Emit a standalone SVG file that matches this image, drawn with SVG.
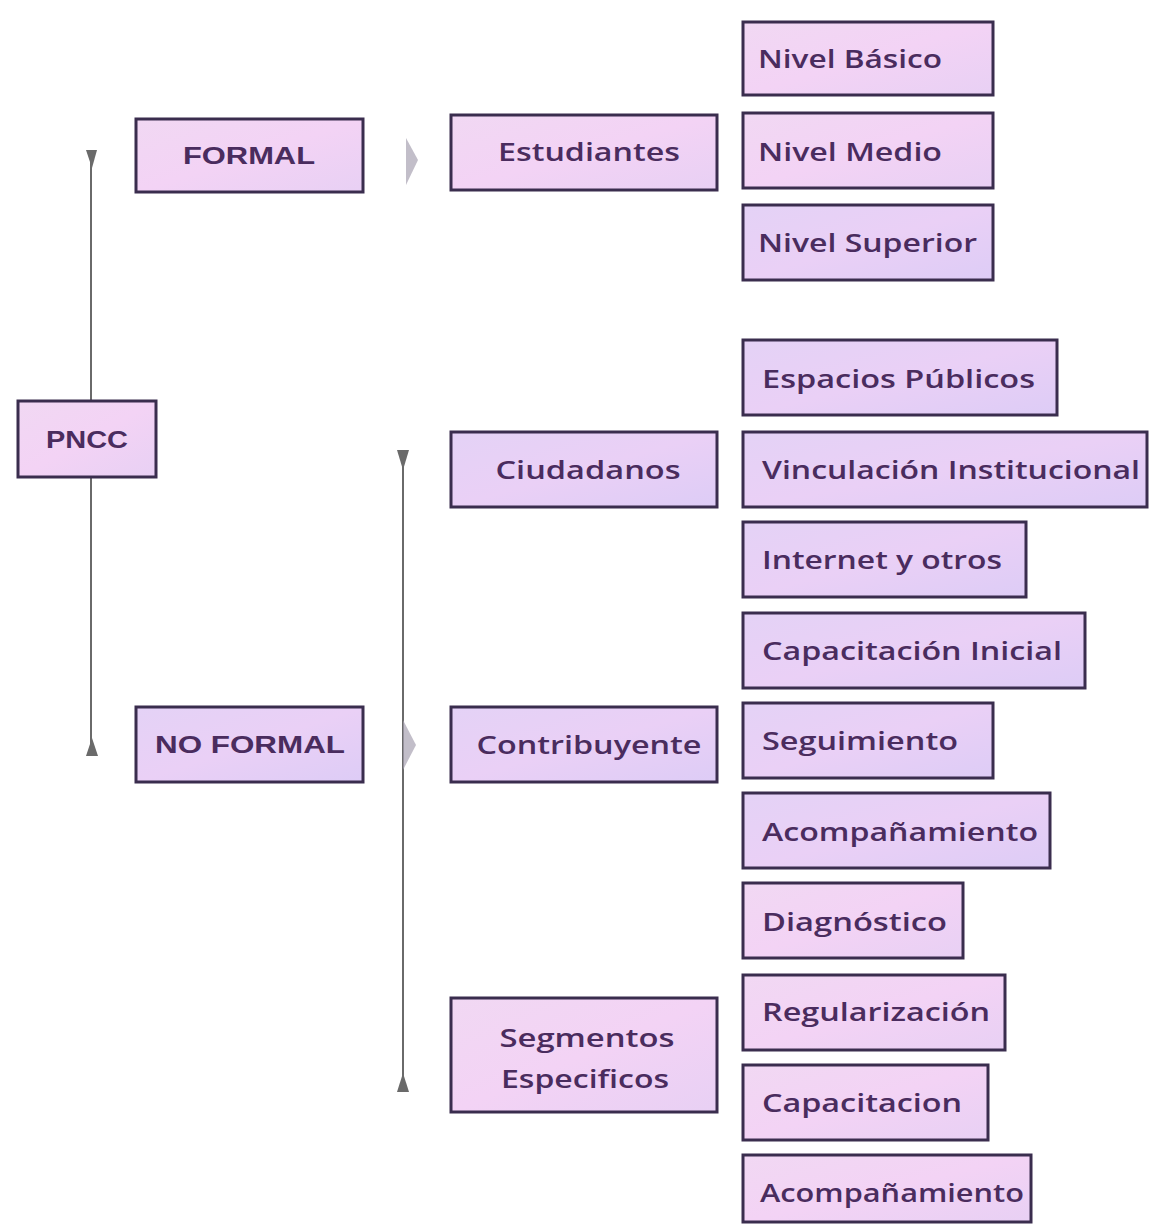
<svg xmlns="http://www.w3.org/2000/svg" width="1149" height="1224" viewBox="0 0 1149 1224">
<style>
.box{stroke:#3a2d4e;stroke-width:3}
.pk{fill:url(#gpk)}
.lv{fill:url(#glv)}
.t{font-family:"Open Sans","Liberation Sans",sans-serif;font-weight:600;font-size:26px;fill:#4a2c5e}
.u{font-family:"Liberation Sans","Open Sans",sans-serif;font-weight:700;font-size:24px;fill:#4a2c5e}
.ln{stroke:#6a6a6a;stroke-width:2;fill:none}
.ah{fill:#6a6a6a}
.ar{fill:#a8a2b2;opacity:0.7}
</style>
<defs>
<linearGradient id="gpk" x1="0" y1="0" x2="1" y2="1">
<stop offset="0" stop-color="#f1d8f3"/>
<stop offset="0.5" stop-color="#f3d3f5"/>
<stop offset="1" stop-color="#e8d0f4"/>
</linearGradient>
<linearGradient id="glv" x1="0" y1="0" x2="1" y2="1">
<stop offset="0" stop-color="#e4d2f6"/>
<stop offset="0.5" stop-color="#ead0f6"/>
<stop offset="1" stop-color="#ddccf6"/>
</linearGradient>
</defs>
<rect width="1149" height="1224" fill="#ffffff"/>
<g id="connectors">
<line class="ln" x1="91" y1="160" x2="91" y2="745"/>
<polygon class="ah" points="86,150 97,150 92,168"/>
<polygon class="ah" points="86,756 98,756 92,738"/>
<line class="ln" x1="403" y1="460" x2="403" y2="1085"/>
<polygon class="ah" points="397,450 409,450 403,470"/>
<polygon class="ah" points="397,1092 409,1092 403,1073"/>
<polygon class="ar" points="406,138 418,160 406,185"/>
<polygon class="ar" points="403,720 416,745 403,770"/>
</g>
<g id="n-pncc"><rect class="box pk" x="18" y="401" width="138" height="76"/><text class="u" x="87" y="448" text-anchor="middle" textLength="82" lengthAdjust="spacingAndGlyphs">PNCC</text></g>
<g id="n-formal"><rect class="box pk" x="136" y="119" width="227" height="73"/><text class="u" x="249" y="164" text-anchor="middle" textLength="132" lengthAdjust="spacingAndGlyphs">FORMAL</text></g>
<g id="n-noformal"><rect class="box lv" x="136" y="707" width="227" height="75"/><text class="u" x="250" y="753" text-anchor="middle" textLength="190" lengthAdjust="spacingAndGlyphs">NO FORMAL</text></g>
<g id="n-estudiantes"><rect class="box pk" x="451" y="115" width="266" height="75"/><text class="t" x="589" y="161" text-anchor="middle" textLength="182" lengthAdjust="spacingAndGlyphs">Estudiantes</text></g>
<g id="n-ciudadanos"><rect class="box lv" x="451" y="432" width="266" height="75"/><text class="t" x="588" y="479" text-anchor="middle" textLength="185" lengthAdjust="spacingAndGlyphs">Ciudadanos</text></g>
<g id="n-contribuyente"><rect class="box lv" x="451" y="707" width="266" height="75"/><text class="t" x="589" y="754" text-anchor="middle" textLength="225" lengthAdjust="spacingAndGlyphs">Contribuyente</text></g>
<g id="n-segmentos"><rect class="box pk" x="451" y="998" width="266" height="114"/><text class="t" x="587" y="1047" text-anchor="middle" textLength="175" lengthAdjust="spacingAndGlyphs">Segmentos</text><text class="t" x="585" y="1088" text-anchor="middle" textLength="168" lengthAdjust="spacingAndGlyphs">Especificos</text></g>
<g id="n-basico"><rect class="box pk" x="743" y="22" width="250" height="73"/><text class="t" x="758" y="68" textLength="184" lengthAdjust="spacingAndGlyphs">Nivel Básico</text></g>
<g id="n-medio"><rect class="box pk" x="743" y="113" width="250" height="75"/><text class="t" x="758" y="161" textLength="184" lengthAdjust="spacingAndGlyphs">Nivel Medio</text></g>
<g id="n-superior"><rect class="box lv" x="743" y="205" width="250" height="75"/><text class="t" x="758" y="252" textLength="219" lengthAdjust="spacingAndGlyphs">Nivel Superior</text></g>
<g id="n-espacios"><rect class="box lv" x="743" y="340" width="314" height="75"/><text class="t" x="762" y="388" textLength="273" lengthAdjust="spacingAndGlyphs">Espacios Públicos</text></g>
<g id="n-vinculacion"><rect class="box lv" x="743" y="432" width="404" height="75"/><text class="t" x="762" y="479" textLength="378" lengthAdjust="spacingAndGlyphs">Vinculación Institucional</text></g>
<g id="n-internet"><rect class="box lv" x="743" y="522" width="283" height="75"/><text class="t" x="762" y="569" textLength="240" lengthAdjust="spacingAndGlyphs">Internet y otros</text></g>
<g id="n-capinicial"><rect class="box lv" x="743" y="613" width="342" height="75"/><text class="t" x="762" y="660" textLength="300" lengthAdjust="spacingAndGlyphs">Capacitación Inicial</text></g>
<g id="n-seguimiento"><rect class="box lv" x="743" y="703" width="250" height="75"/><text class="t" x="762" y="750" textLength="196" lengthAdjust="spacingAndGlyphs">Seguimiento</text></g>
<g id="n-acomp1"><rect class="box lv" x="743" y="793" width="307" height="75"/><text class="t" x="762" y="841" textLength="276" lengthAdjust="spacingAndGlyphs">Acompañamiento</text></g>
<g id="n-diagnostico"><rect class="box pk" x="743" y="883" width="220" height="75"/><text class="t" x="762" y="931" textLength="185" lengthAdjust="spacingAndGlyphs">Diagnóstico</text></g>
<g id="n-regularizacion"><rect class="box pk" x="743" y="975" width="262" height="75"/><text class="t" x="762" y="1021" textLength="228" lengthAdjust="spacingAndGlyphs">Regularización</text></g>
<g id="n-capacitacion"><rect class="box pk" x="743" y="1065" width="245" height="75"/><text class="t" x="762" y="1112" textLength="200" lengthAdjust="spacingAndGlyphs">Capacitacion</text></g>
<g id="n-acomp2"><rect class="box pk" x="743" y="1155" width="288" height="67"/><text class="t" x="760" y="1202" textLength="264" lengthAdjust="spacingAndGlyphs">Acompañamiento</text></g>
</svg>
